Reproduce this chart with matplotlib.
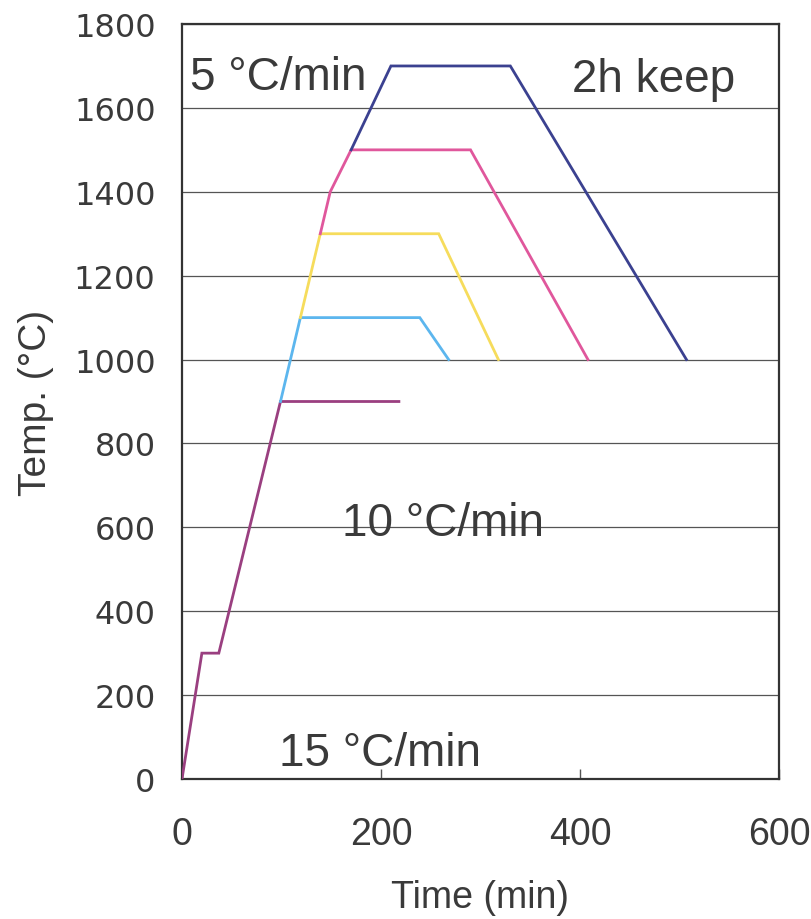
import matplotlib.pyplot as plt

# heating schedules (time in min, temperature in degC)
t_900 = [0, 20, 37, 99, 218]
T_900 = [0, 300, 300, 900, 900]

t_1100 = [99, 119, 239, 268]
T_1100 = [900, 1100, 1100, 1000]

t_1300 = [119, 139, 258, 318]
T_1300 = [1100, 1300, 1300, 1000]

t_1500 = [139, 149, 170, 290, 408]
T_1500 = [1300, 1400, 1500, 1500, 1000]

t_1700 = [170, 210, 330, 507]
T_1700 = [1500, 1700, 1700, 1000]

x_ticks = [0, 200, 400, 600]
y_ticks = [0, 200, 400, 600, 800, 1000, 1200, 1400, 1600, 1800]

schedules = [
    (t_900, T_900, "#9a3f80"),
    (t_1100, T_1100, "#5cb6ee"),
    (t_1300, T_1300, "#f6dc5c"),
    (t_1500, T_1500, "#e0579c"),
    (t_1700, T_1700, "#3b4190"),
]

txt = "#3a3a3a"
plt.rcParams["font.family"] = ["Liberation Sans", "DejaVu Sans"]

fig = plt.figure(figsize=(8.11, 9.2), dpi=100)
ax = fig.add_axes([0.2244, 0.1522, 0.7361, 0.8206])

for ts, Ts, c in schedules:
    ax.plot(ts, Ts, color=c, lw=2.0, solid_joinstyle="miter", zorder=3)

ax.set_xlim(0, 600)
ax.set_ylim(0, 1800)
ax.set_xticks(x_ticks)
ax.set_yticks(y_ticks)
ax.yaxis.grid(True, color="#555555", lw=0.9)
ax.set_axisbelow(True)

for s in ax.spines.values():
    s.set_color("#333333")
    s.set_linewidth(1.6)

ax.tick_params(axis="x", direction="in", length=7, width=1, color="#555555",
               pad=27, labelsize=27, labelcolor=txt)
ax.tick_params(axis="y", length=0, pad=19, labelcolor="#3a3a3a")
for lab in ax.get_yticklabels():
    lab.set_fontfamily("DejaVu Sans")
    lab.set_fontsize(23)

ax.set_xlabel("Time (min)", fontsize=27, color=txt)
ax.xaxis.set_label_coords(0.5, -0.132)
ax.set_ylabel("Temp. (°C)", fontsize=28, color=txt, labelpad=14)

ax.text(8, 1645, "5 °C/min", fontsize=33, color=txt, va="baseline")
ax.text(392, 1640, "2h keep", fontsize=33, color=txt, va="baseline")
ax.text(161, 582, "10 °C/min", fontsize=33, color=txt, va="baseline")
ax.text(98, 33, "15 °C/min", fontsize=33, color=txt, va="baseline")

fig.savefig("out.png", dpi=100)
